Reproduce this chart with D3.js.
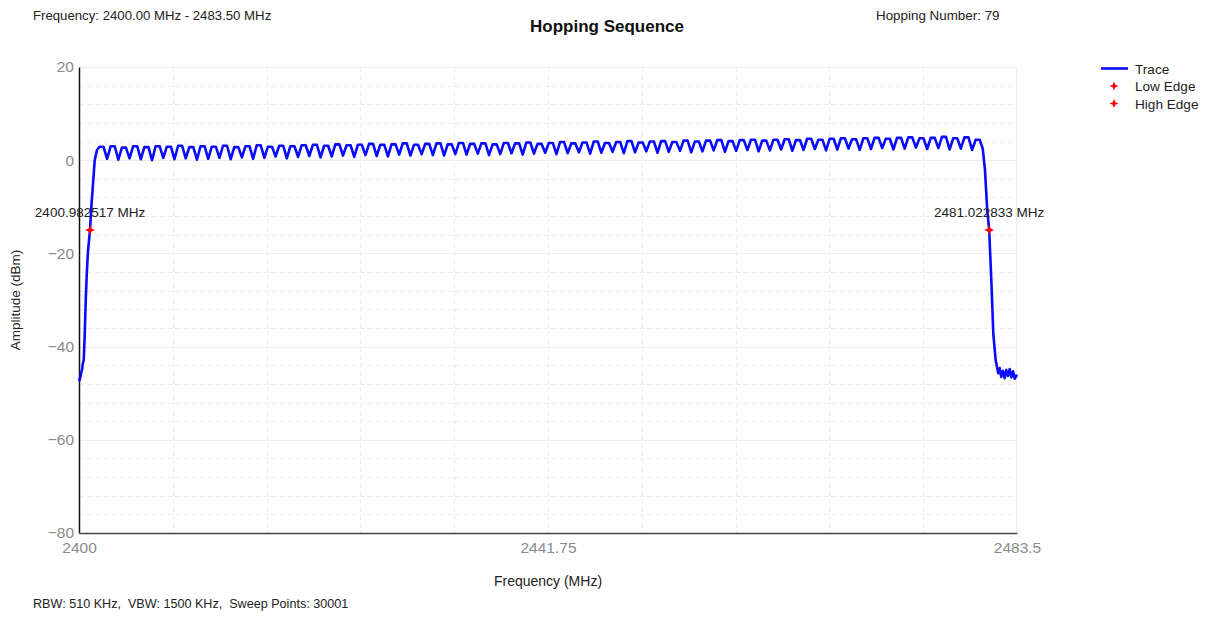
<!DOCTYPE html>
<html>
<head>
<meta charset="utf-8">
<script src="https://cdn.jsdelivr.net/npm/d3@7"></script>
<style>
  html, body { margin: 0; padding: 0; background: #fff; }
  svg { display: block; font-family: "Liberation Sans", Arial, sans-serif; }
  text { white-space: pre; }
</style>
</head>
<body>
<svg id="chart" width="1208" height="617"></svg>
<script>
// ---------------- DATA ----------------
const xDomain = [2400, 2483.5];
const yDomain = [-80, 20];
const xTickValues = [2400, 2441.75, 2483.5];
const xTickLabels = ["2400", "2441.75", "2483.5"];
const yTickValues = [20, 0, -20, -40, -60, -80];

// hop channel centres (MHz) 2402..2480
const channelFreqs = d3.range(2402, 2481, 1);
// top level of each channel (dBm)
const channelTops = [
  2.9, 3.0, 2.7, 3.0, 2.8, 3.0, 2.9, 3.1, 2.8, 3.0,
  2.9, 3.1, 2.8, 3.0, 3.2, 2.9, 3.1, 3.0, 3.2, 3.3,
  3.1, 3.4, 3.2, 3.3, 3.5, 3.3, 3.4, 3.6, 3.3, 3.5,
  3.6, 3.4, 3.7, 3.5, 3.6, 3.4, 3.7, 3.6, 3.8, 3.5,
  3.7, 3.9, 3.6, 3.8, 4.0, 3.7, 3.9, 4.1, 3.8, 4.0,
  4.1, 3.9, 4.2, 4.0, 4.2, 4.3, 4.1, 4.3, 4.4, 4.2,
  4.4, 4.5, 4.3, 4.6, 4.4, 4.6, 4.7, 4.5, 4.7, 4.8,
  4.6, 4.8, 4.9, 4.7, 4.8, 5.0, 4.7, 4.9, 4.4
];
// dip level at each boundary between neighbouring channels (2402.5..2479.5)
const boundaryDips = [
  0.3, 0.1, 0.4, 0.2, 0.0, 0.5, 0.2, 0.4, 0.1, 0.3,
  0.5, 0.2, 0.6, 0.3, 0.5, 0.8, 0.4, 0.7, 0.9, 0.6,
  0.8, 1.0, 0.7, 1.1, 0.9, 0.8, 1.2, 1.0, 1.3, 1.1,
  1.0, 1.3, 1.2, 1.4, 1.1, 1.3, 1.5, 1.2, 1.4, 1.6,
  1.3, 1.5, 1.7, 1.4, 1.6, 1.8, 1.5, 1.7, 1.9, 1.6,
  1.8, 2.0, 1.7, 1.9, 2.1, 1.8, 2.0, 2.2, 1.9, 2.1,
  2.3, 2.0, 2.2, 2.4, 2.1, 2.3, 2.5, 2.2, 2.4, 2.6,
  2.3, 2.5, 2.7, 2.4, 2.6, 2.3, 2.5, 2.2
];
// lower band edge (noise floor and rising skirt)
const leftEdgeFreqs = [2400.00, 2400.05, 2400.12, 2400.20, 2400.28, 2400.35, 2400.42, 2400.50, 2400.60, 2400.70, 2400.80, 2400.98, 2401.10, 2401.27, 2401.40, 2401.60];
const leftEdgeAmps  = [-46.8, -47.2, -46.5, -45.6, -44.8, -43.5, -43.0, -38.0, -30.0, -24.0, -19.5, -15.0, -10.0, -4.3, 0.0, 2.2];
// upper band edge (falling skirt and noise floor)
const rightEdgeFreqs = [2480.45, 2480.65, 2480.85, 2481.02, 2481.24, 2481.39, 2481.60, 2481.83, 2481.95, 2482.10, 2482.25, 2482.40, 2482.55, 2482.70, 2482.85, 2483.00, 2483.15, 2483.30, 2483.50];
const rightEdgeAmps  = [2.5, -2.1, -10.7, -14.8, -27.2, -37.2, -42.9, -45.7, -44.6, -46.5, -45.2, -46.8, -45.0, -46.3, -44.8, -46.6, -45.3, -46.9, -46.0];

const edgeNames = ["Low Edge", "High Edge"];
const edgeFreqs = [2400.982517, 2481.022833];
const edgeAmps  = [-15.0, -15.0];
const edgeLabels = ["2400.982517 MHz", "2481.022833 MHz"];

const titleText = "Hopping Sequence";
const freqRangeText = "Frequency: 2400.00 MHz - 2483.50 MHz";
const hopText = "Hopping Number: 79";
const footerText = "RBW: 510 KHz,  VBW: 1500 KHz,  Sweep Points: 30001";
const xTitle = "Frequency (MHz)";
const yTitle = "Amplitude (dBm)";

// ---------------- BUILD TRACE ----------------
const trace = [];
leftEdgeFreqs.forEach((f, i) => trace.push([f, leftEdgeAmps[i]]));
channelFreqs.forEach((c, k) => {
  if (k > 0) trace.push([c - 0.5, boundaryDips[k - 1]]);
  trace.push([c - 0.18, channelTops[k]]);
  trace.push([c + 0.18, channelTops[k]]);
});
rightEdgeFreqs.forEach((f, i) => trace.push([f, rightEdgeAmps[i]]));

// ---------------- DRAW ----------------
const svg = d3.select("#chart");
const L = 79, R = 1017, T = 67, B = 533;
const x = d3.scaleLinear().domain(xDomain).range([L, R]);
const y = d3.scaleLinear().domain(yDomain).range([B, T]);

// grid
const grid = svg.append("g");
const vGrid = d3.range(0, 11).map(i => xDomain[0] + i * (xDomain[1] - xDomain[0]) / 10);
grid.selectAll("line.v").data(vGrid.slice(1, 10)).join("line")
  .attr("x1", d => Math.round(x(d)) + 0.5).attr("x2", d => Math.round(x(d)) + 0.5).attr("y1", T).attr("y2", B)
  .attr("stroke", "#ededed").attr("stroke-width", 1).attr("stroke-dasharray", "5,3");
const hGrid = d3.range(-76, 20, 4);
grid.selectAll("line.h").data(hGrid).join("line")
  .attr("x1", L).attr("x2", R).attr("y1", d => Math.round(y(d)) + 0.5).attr("y2", d => Math.round(y(d)) + 0.5)
  .attr("stroke", "#ededed")
  .attr("stroke-width", 1)
  .attr("stroke-dasharray", d => d % 20 === 0 ? null : "5,3");
grid.append("line").attr("x1", L).attr("x2", R).attr("y1", T + 0.5).attr("y2", T + 0.5).attr("stroke", "#ededed");
grid.append("line").attr("x1", R - 0.5).attr("x2", R - 0.5).attr("y1", T).attr("y2", B).attr("stroke", "#ededed");

// axes
const yAxis = d3.axisLeft(y).tickValues(yTickValues).tickSize(0).tickPadding(5);
const gy = svg.append("g").attr("transform", `translate(${L},0)`).call(yAxis);
gy.select(".domain").attr("stroke", "#111").attr("stroke-width", 1.5);
gy.selectAll("text").attr("fill", "#8a8a8a").attr("font-size", 15.5);

const xAxis = d3.axisBottom(x).tickValues(xTickValues).tickFormat((d, i) => xTickLabels[i]).tickSize(0).tickPadding(9);
const gx = svg.append("g").attr("transform", `translate(0,${B})`).call(xAxis);
gx.select(".domain").attr("stroke", "#444").attr("stroke-width", 1.5);
gx.selectAll("text").attr("fill", "#8a8a8a").attr("font-size", 15.5);

// trace
const line = d3.line().x(d => x(d[0])).y(d => y(d[1]));
svg.append("path").datum(trace)
  .attr("d", line).attr("fill", "none")
  .attr("stroke", "#0a0aff").attr("stroke-width", 2.6).attr("stroke-linejoin", "round");

// markers
function star(r) {
  const s = r * 0.3;
  return `M0,${-r}L${s},${-s}L${r},0L${s},${s}L0,${r}L${-s},${s}L${-r},0L${-s},${-s}Z`;
}
edgeFreqs.forEach((f, i) => {
  svg.append("path").attr("d", star(5))
    .attr("transform", `translate(${x(f)},${y(edgeAmps[i])})`)
    .attr("fill", "#ff0000");
  svg.append("text").attr("x", x(f)).attr("y", y(edgeAmps[i]) - 13)
    .attr("text-anchor", "middle").attr("font-size", 13.5).attr("fill", "#222")
    .text(edgeLabels[i]);
});

// titles & texts
svg.append("text").attr("x", 607).attr("y", 32).attr("text-anchor", "middle")
  .attr("font-size", 17).attr("font-weight", "bold").attr("fill", "#111").text(titleText);
svg.append("text").attr("x", 33).attr("y", 20).attr("font-size", 13.2).attr("fill", "#222").text(freqRangeText);
svg.append("text").attr("x", 876).attr("y", 20).attr("font-size", 13.4).attr("fill", "#222").text(hopText);
svg.append("text").attr("x", 33).attr("y", 608).attr("font-size", 12.6).attr("fill", "#222").text(footerText);
svg.append("text").attr("x", 548).attr("y", 586).attr("text-anchor", "middle")
  .attr("font-size", 14).attr("fill", "#222").text(xTitle);
svg.append("text").attr("transform", "translate(20,300) rotate(-90)").attr("text-anchor", "middle")
  .attr("font-size", 13.5).attr("fill", "#222").text(yTitle);

// legend
const lg = svg.append("g");
lg.append("line").attr("x1", 1101).attr("x2", 1128).attr("y1", 68.5).attr("y2", 68.5)
  .attr("stroke", "#0a0aff").attr("stroke-width", 2.6);
lg.append("text").attr("x", 1135).attr("y", 73.5).attr("font-size", 13.6).attr("fill", "#222").text("Trace");
edgeNames.forEach((n, i) => {
  const yy = 86 + i * 17.5;
  lg.append("path").attr("d", star(4.5)).attr("transform", `translate(1114,${yy})`).attr("fill", "#ff0000");
  lg.append("text").attr("x", 1135).attr("y", yy + 5).attr("font-size", 13.6).attr("fill", "#222").text(n);
});
</script>
</body>
</html>
